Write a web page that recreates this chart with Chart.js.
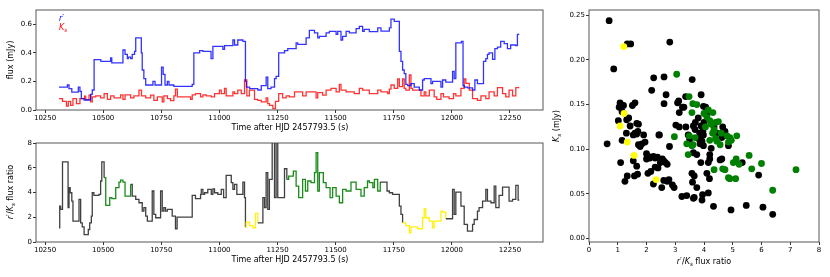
<!DOCTYPE html>
<html>
<head>
<meta charset="utf-8">
<script src="https://cdn.jsdelivr.net/npm/chart.js@4.4.1/dist/chart.umd.min.js"></script>
<style>
body { margin: 0; background: #fff; width: 830px; height: 277px; position: relative; overflow: hidden; }
canvas { position: absolute; }
</style>
</head>
<body>
<canvas id="fluxChart" width="552" height="135" style="left:0;top:0"></canvas>
<canvas id="ratioChart" width="552" height="142" style="left:0;top:135px"></canvas>
<canvas id="scatterChart" width="280" height="277" style="left:550px;top:0"></canvas>
<script>
// r' light curve [time (s), flux (mJy)]
const rFlux = [
    [10310, 0.16], [10346, 0.175], [10353, 0.15], [10365, 0.125], [10393, 0.16], [10400, 0.13],
    [10406, 0.08], [10418, 0.07], [10446, 0.11], [10453, 0.14], [10461, 0.352], [10490, 0.34],
    [10532, 0.365], [10537, 0.33], [10585, 0.42], [10594, 0.39], [10604, 0.36], [10608, 0.37],
    [10618, 0.36], [10625, 0.39], [10635, 0.41], [10640, 0.505], [10664, 0.40], [10668, 0.28],
    [10675, 0.22], [10683, 0.175], [10714, 0.2], [10723, 0.175], [10751, 0.3], [10758, 0.25],
    [10766, 0.175], [10776, 0.2], [10783, 0.175], [10804, 0.165], [10883, 0.18], [10890, 0.4],
    [10915, 0.416], [10929, 0.41], [10964, 0.36], [10972, 0.445], [11015, 0.425], [11022, 0.45],
    [11058, 0.49], [11065, 0.455], [11079, 0.49], [11101, 0.48], [11112, 0.2], [11116, 0.16],
    [11130, 0.15], [11165, 0.14], [11180, 0.17], [11201, 0.23], [11208, 0.15], [11222, 0.16],
    [11237, 0.22], [11244, 0.235], [11255, 0.4], [11280, 0.415], [11294, 0.43], [11330, 0.47],
    [11337, 0.46], [11373, 0.505], [11387, 0.557], [11409, 0.54], [11423, 0.505], [11430, 0.515],
    [11459, 0.54], [11473, 0.55], [11502, 0.53], [11509, 0.55], [11523, 0.49], [11530, 0.515],
    [11545, 0.55], [11559, 0.54], [11588, 0.57], [11602, 0.585], [11616, 0.55], [11623, 0.565],
    [11645, 0.548], [11681, 0.575], [11695, 0.552], [11731, 0.575], [11738, 0.636], [11752, 0.62],
    [11774, 0.41], [11781, 0.34], [11788, 0.28], [11795, 0.255], [11802, 0.18], [11810, 0.17],
    [11824, 0.185], [11838, 0.16], [11860, 0.14], [11874, 0.21], [11881, 0.22], [11910, 0.185],
    [11917, 0.2], [11953, 0.16], [11960, 0.21], [11974, 0.195], [12003, 0.27], [12010, 0.22],
    [12017, 0.47], [12041, 0.48], [12048, 0.17], [12053, 0.16], [12067, 0.155], [12089, 0.14],
    [12099, 0.21], [12110, 0.185], [12136, 0.34], [12146, 0.36], [12153, 0.39], [12160, 0.4],
    [12175, 0.355], [12185, 0.43], [12196, 0.44], [12210, 0.48], [12225, 0.465], [12239, 0.43],
    [12253, 0.455], [12275, 0.45], [12282, 0.53], [12290, 0.53]
];

// Ks light curve [time (s), flux (mJy)]
const kFlux = [
    [10310, 0.08], [10325, 0.061], [10342, 0.028], [10350, 0.061], [10360, 0.033], [10370, 0.08],
    [10385, 0.045], [10400, 0.08], [10420, 0.097], [10425, 0.073], [10439, 0.104], [10446, 0.057],
    [10453, 0.092], [10468, 0.099], [10489, 0.085], [10504, 0.115], [10518, 0.075], [10532, 0.099],
    [10547, 0.085], [10575, 0.106], [10585, 0.075], [10594, 0.106], [10618, 0.085], [10632, 0.099],
    [10654, 0.139], [10665, 0.099], [10683, 0.085], [10704, 0.104], [10718, 0.068], [10733, 0.092],
    [10754, 0.057], [10761, 0.099], [10776, 0.08], [10790, 0.066], [10804, 0.099], [10811, 0.146],
    [10819, 0.092], [10876, 0.075], [10883, 0.106], [10897, 0.115], [10919, 0.092], [10929, 0.106],
    [10943, 0.099], [10965, 0.092], [10979, 0.115], [11000, 0.139], [11008, 0.115], [11022, 0.151],
    [11029, 0.099], [11058, 0.127], [11065, 0.115], [11079, 0.139], [11094, 0.115], [11108, 0.21],
    [11118, 0.099], [11129, 0.139], [11151, 0.075], [11165, 0.068], [11180, 0.057], [11201, 0.085],
    [11208, 0.045], [11215, 0.033], [11230, 0.01], [11241, 0.061], [11255, 0.115], [11272, 0.085],
    [11287, 0.099], [11301, 0.092], [11323, 0.127], [11358, 0.099], [11373, 0.127], [11416, 0.085],
    [11423, 0.122], [11444, 0.104], [11459, 0.139], [11480, 0.151], [11502, 0.127], [11516, 0.18],
    [11523, 0.139], [11545, 0.127], [11580, 0.115], [11602, 0.151], [11616, 0.139], [11645, 0.115],
    [11681, 0.139], [11695, 0.127], [11724, 0.115], [11731, 0.146], [11738, 0.175], [11752, 0.151],
    [11767, 0.217], [11774, 0.163], [11788, 0.217], [11795, 0.151], [11802, 0.139], [11817, 0.245],
    [11824, 0.151], [11831, 0.139], [11867, 0.099], [11881, 0.127], [11888, 0.099], [11903, 0.139],
    [11924, 0.092], [11935, 0.075], [11953, 0.115], [11964, 0.092], [11988, 0.08], [12007, 0.115],
    [12017, 0.099], [12039, 0.151], [12053, 0.217], [12060, 0.186], [12075, 0.139], [12089, 0.08],
    [12110, 0.068], [12125, 0.099], [12146, 0.08], [12160, 0.127], [12182, 0.099], [12196, 0.156],
    [12218, 0.115], [12232, 0.092], [12246, 0.139], [12261, 0.099], [12275, 0.156], [12290, 0.156]
];

// r'/Ks flux ratio [time (s), ratio]
const fluxRatio = [
    [10310, 1.15], [10313, 2.9], [10317, 2.63], [10325, 6.47], [10349, 2.77], [10353, 4.39],
    [10358, 3.98], [10365, 3.31], [10370, 1.69], [10396, 3.44], [10403, 1.55], [10410, 1.23],
    [10418, 0.6], [10436, 1.01], [10442, 1.55], [10449, 2.09], [10453, 3.98], [10460, 3.77],
    [10482, 3.85], [10489, 4.93], [10494, 6.47], [10504, 5.2], [10511, 2.96], [10528, 3.58],
    [10537, 3.5], [10554, 4.39], [10568, 4.84], [10575, 5.0], [10585, 4.84], [10594, 3.71],
    [10618, 4.65], [10625, 3.71], [10640, 3.44], [10654, 3.17], [10668, 2.5], [10675, 2.77],
    [10683, 2.09], [10690, 1.69], [10711, 4.12], [10718, 2.23], [10726, 1.96], [10747, 4.12],
    [10754, 2.5], [10761, 2.77], [10768, 2.5], [10776, 2.63], [10797, 2.09], [10811, 1.07],
    [10818, 2.01], [10883, 3.77], [10897, 3.5], [10919, 3.85], [10922, 4.25], [10929, 3.85],
    [10936, 3.98], [10950, 4.25], [10965, 3.85], [10972, 4.3], [10979, 3.98], [10993, 3.85],
    [11008, 4.25], [11018, 3.58], [11029, 5.38], [11051, 4.79], [11058, 4.25], [11065, 4.65],
    [11075, 3.85], [11101, 4.84], [11108, 3.58], [11112, 1.2], [11115, 1.6], [11129, 1.33],
    [11144, 1.15], [11155, 2.31], [11165, 1.55], [11187, 3.58], [11194, 2.77], [11201, 5.6],
    [11208, 2.63], [11215, 5.06], [11227, 9], [11237, 3.58], [11244, 9], [11251, 3.58],
    [11280, 5.92], [11290, 5.06], [11298, 5.33], [11318, 5.73], [11330, 4.52], [11341, 3.58],
    [11358, 5.06], [11370, 4.12], [11380, 4.93], [11394, 4.79], [11409, 5.6], [11416, 7.22],
    [11423, 4.12], [11430, 5.6], [11447, 4.79], [11459, 4.39], [11476, 3.58], [11487, 4.39],
    [11502, 3.71], [11516, 3.17], [11530, 4.25], [11545, 4.12], [11566, 4.84], [11588, 4.25],
    [11609, 3.71], [11623, 4.39], [11637, 4.93], [11645, 4.79], [11660, 4.39], [11667, 5.06],
    [11681, 4.12], [11692, 4.84], [11721, 4.12], [11731, 3.98], [11745, 3.85], [11774, 2.9],
    [11781, 2.23], [11788, 1.55], [11802, 1.33], [11817, 0.74], [11824, 1.23], [11853, 1.07],
    [11874, 1.96], [11881, 2.69], [11888, 1.96], [11903, 1.69], [11917, 1.15], [11924, 1.69],
    [11953, 2.5], [11960, 2.42], [11974, 1.88], [12003, 4.25], [12010, 2.23], [12017, 4.03],
    [12039, 2.9], [12053, 1.42], [12067, 0.88], [12089, 1.42], [12096, 1.82], [12110, 2.5],
    [12117, 2.77], [12132, 3.31], [12146, 4.25], [12153, 3.31], [12168, 3.17], [12182, 4.52],
    [12189, 2.77], [12203, 3.77], [12218, 4.44], [12246, 3.31], [12261, 3.44], [12275, 4.57],
    [12285, 3.39], [12290, 3.39]
];

// time spans highlighted in the ratio curve and the scatter
const greenSpans = [[10497, 10618], [11290, 11688]];
const yellowSpans = [[11112, 11165], [11788, 11974]];

// scatter [ratio, Ks (mJy)]
const blackPoints = [
    [0.70, 0.244], [1.33, 0.218], [1.45, 0.218], [0.86, 0.19], [2.81, 0.220], [2.25, 0.180],
    [2.61, 0.181], [3.59, 0.178], [2.18, 0.166], [2.68, 0.161], [3.90, 0.161], [3.36, 0.159],
    [1.08, 0.152], [1.20, 0.149], [1.60, 0.152], [1.51, 0.149], [1.15, 0.142], [1.02, 0.132],
    [1.31, 0.133], [1.38, 0.135], [1.43, 0.126], [1.66, 0.129], [1.72, 0.128], [2.61, 0.151],
    [3.08, 0.152], [3.12, 0.154], [3.25, 0.147], [3.30, 0.147], [3.14, 0.141], [3.98, 0.148],
    [4.06, 0.147], [3.02, 0.127], [3.14, 0.125], [3.37, 0.125], [3.63, 0.126], [3.69, 0.122],
    [3.90, 0.126], [3.96, 0.120], [4.65, 0.125], [4.73, 0.120], [1.60, 0.118], [1.70, 0.120],
    [1.90, 0.116], [2.45, 0.116], [0.63, 0.106], [1.10, 0.085], [1.54, 0.087], [1.25, 0.064],
    [1.33, 0.070], [1.58, 0.070], [1.69, 0.072], [1.66, 0.081], [2.24, 0.061], [2.53, 0.057],
    [1.54, 0.116], [1.66, 0.117], [1.72, 0.105], [1.78, 0.103], [1.84, 0.106], [1.95, 0.108],
    [2.00, 0.095], [2.06, 0.092], [2.12, 0.090], [2.00, 0.089], [2.24, 0.092], [2.30, 0.090],
    [2.38, 0.091], [2.48, 0.085], [2.60, 0.087], [2.55, 0.089], [2.66, 0.085], [2.72, 0.083],
    [2.30, 0.080], [2.40, 0.079], [2.05, 0.073], [2.15, 0.075], [2.60, 0.065], [2.72, 0.064],
    [2.78, 0.066], [2.90, 0.060], [2.96, 0.057], [2.80, 0.103], [2.43, 0.116], [3.45, 0.116],
    [3.50, 0.111], [3.63, 0.096], [3.75, 0.094], [3.80, 0.112], [3.98, 0.116], [3.93, 0.109],
    [3.86, 0.106], [3.98, 0.104], [3.89, 0.085], [3.58, 0.073], [3.66, 0.070], [3.75, 0.057],
    [3.60, 0.063], [3.23, 0.047], [3.40, 0.048], [3.63, 0.045], [3.66, 0.046], [3.95, 0.049],
    [4.15, 0.051], [3.93, 0.043], [4.33, 0.036], [4.10, 0.073], [4.19, 0.067], [4.15, 0.085],
    [4.20, 0.089], [4.20, 0.094], [4.25, 0.101], [4.62, 0.113], [4.68, 0.115], [4.56, 0.088],
    [4.62, 0.089], [4.85, 0.104], [5.33, 0.085], [5.90, 0.071], [4.94, 0.032], [5.47, 0.037],
    [6.05, 0.035], [6.39, 0.027], [3.70, 0.130], [3.80, 0.135], [4.00, 0.130], [4.10, 0.138],
    [3.85, 0.118], [4.35, 0.125], [4.45, 0.118], [1.15, 0.110], [1.30, 0.118], [1.05, 0.147]
];
const greenPoints = [
    [3.05, 0.184], [3.48, 0.159], [3.61, 0.151], [3.75, 0.150], [3.58, 0.141], [4.31, 0.141],
    [4.10, 0.136], [4.20, 0.132], [4.00, 0.140], [4.25, 0.128], [4.40, 0.130], [4.50, 0.131],
    [4.15, 0.144], [4.35, 0.122], [4.05, 0.125], [4.60, 0.118], [4.80, 0.115], [5.14, 0.115],
    [2.97, 0.114], [3.49, 0.115], [3.40, 0.106], [3.45, 0.094], [3.69, 0.113], [3.58, 0.104],
    [3.62, 0.105], [4.35, 0.077], [4.30, 0.118], [4.35, 0.120], [4.45, 0.109], [4.56, 0.105],
    [4.65, 0.078], [4.73, 0.077], [4.85, 0.068], [4.90, 0.067], [5.10, 0.067], [4.90, 0.113],
    [4.95, 0.110], [4.85, 0.108], [5.02, 0.085], [5.12, 0.089], [5.22, 0.083], [5.57, 0.093],
    [5.66, 0.078], [6.00, 0.084], [6.39, 0.054], [7.20, 0.077], [4.20, 0.110], [4.40, 0.112]
];
const yellowPoints = [
    [1.21, 0.215], [1.22, 0.140], [1.08, 0.126], [1.33, 0.108], [1.57, 0.093], [2.33, 0.066]
];

const timeTicks = [10250, 10500, 10750, 11000, 11250, 11500, 11750, 12000, 12250];
const fluxTicks = [0.0, 0.2, 0.4, 0.6];
const ratioTicks = [0, 2, 4, 6, 8];
const scatterXTicks = [0, 1, 2, 3, 4, 5, 6, 7, 8];
const scatterYTicks = [0.00, 0.05, 0.10, 0.15, 0.20, 0.25];

const FONT = '"DejaVu Sans", sans-serif';
const tickFont = { family: FONT, size: 7 };
const LABEL_SIZE = 8;

function toXY(pairs) {
    return pairs.map(p => ({ x: p[0], y: p[1] }));
}

function inSpans(t, spans) {
    return spans.some(s => t >= s[0] && t < s[1]);
}

function ratioColor(t) {
    if (inSpans(t, greenSpans)) return 'rgba(0,128,0,0.9)';
    if (inSpans(t, yellowSpans)) return 'rgba(255,240,0,0.95)';
    return 'rgba(0,0,0,0.75)';
}

// draw text made of plain/italic/subscript pieces
function drawRich(ctx, parts, x, y, opts) {
    const size = opts.size;
    const fontOf = p => (p.it ? 'italic ' : '') + (p.sub ? size * 0.7 : size) + 'px ' + FONT;
    ctx.save();
    ctx.translate(x, y);
    ctx.rotate(opts.angle || 0);
    let total = 0;
    parts.forEach(p => { ctx.font = fontOf(p); total += ctx.measureText(p.t).width; });
    let cx = opts.align === 'left' ? 0 : -total / 2;
    ctx.textBaseline = 'middle';
    ctx.fillStyle = opts.color || '#000';
    parts.forEach(p => {
        ctx.font = fontOf(p);
        ctx.fillText(p.t, cx, p.sub ? size * 0.3 : 0);
        cx += ctx.measureText(p.t).width;
    });
    ctx.restore();
}

const ratioLabel = [
    { t: 'r', it: true }, { t: '\u2032/' }, { t: 'K', it: true }, { t: 's', it: true, sub: true }, { t: ' flux ratio' }
];
const timeLabel = [{ t: 'Time after HJD 2457793.5 (s)' }];

function framePlugin(labels) {
    return {
        id: 'frame',
        afterDraw(chart) {
            const ctx = chart.ctx;
            const a = chart.chartArea;
            ctx.save();
            ctx.strokeStyle = '#444';
            ctx.lineWidth = 0.9;
            ctx.strokeRect(a.left, a.top, a.right - a.left, a.bottom - a.top);
            ctx.restore();
            labels.forEach(l => drawRich(ctx, l.parts, l.x, l.y, l));
        }
    };
}

function axis(min, max, ticks, fmt, size, isX) {
    return {
        type: 'linear',
        min: min,
        max: max,
        afterBuildTicks: s => { s.ticks = ticks.map(v => ({ value: v })); },
        afterFit: s => { if (isX) s.height = size; else s.width = size; },
        ticks: { font: tickFont, color: '#000', padding: 1, maxRotation: 0, autoSkip: false, callback: fmt },
        grid: { display: true, drawOnChartArea: false, drawTicks: true, tickLength: 3, color: '#333' },
        border: { display: false }
    };
}

Chart.defaults.animation = false;
Chart.defaults.plugins.legend.display = false;
Chart.defaults.plugins.tooltip.enabled = false;

new Chart(document.getElementById('fluxChart'), {
    type: 'line',
    data: {
        datasets: [
            { data: toXY(rFlux), borderColor: 'rgba(0,0,255,0.8)', borderWidth: 1.3, pointRadius: 0, stepped: true },
            { data: toXY(kFlux), borderColor: 'rgba(255,0,0,0.8)', borderWidth: 1.3, pointRadius: 0, stepped: true }
        ]
    },
    options: {
        responsive: false,
        layout: { padding: { top: 10, right: 9, left: 0, bottom: 0 } },
        scales: {
            x: axis(10211, 12392, timeTicks, v => String(v), 25, true),
            y: axis(0, 0.7, fluxTicks, v => v.toFixed(1), 36, false)
        }
    },
    plugins: [framePlugin([
        { parts: timeLabel, x: 290, y: 128, size: LABEL_SIZE },
        { parts: [{ t: 'flux (mJy)' }], x: 11, y: 60, size: LABEL_SIZE, angle: -Math.PI / 2 },
        { parts: [{ t: 'r', it: true }, { t: '\u2032' }], x: 59, y: 19, size: LABEL_SIZE, align: 'left', color: '#0000ff' },
        { parts: [{ t: 'K', it: true }, { t: 's', it: true, sub: true }], x: 59, y: 28, size: LABEL_SIZE, align: 'left', color: '#ff0000' }
    ])]
});

new Chart(document.getElementById('ratioChart'), {
    type: 'line',
    data: {
        datasets: [{
            data: toXY(fluxRatio),
            borderColor: 'rgba(0,0,0,0.75)',
            borderWidth: 1.3,
            pointRadius: 0,
            stepped: true,
            segment: { borderColor: c => ratioColor(c.p0.parsed.x) }
        }]
    },
    options: {
        responsive: false,
        layout: { padding: { top: 8, right: 9, left: 0, bottom: 0 } },
        scales: {
            x: axis(10211, 12392, timeTicks, v => String(v), 35, true),
            y: axis(0, 8, ratioTicks, v => String(v), 36, false)
        }
    },
    plugins: [framePlugin([
        { parts: timeLabel, x: 290, y: 125, size: LABEL_SIZE },
        { parts: ratioLabel, x: 11, y: 57, size: LABEL_SIZE, angle: -Math.PI / 2 }
    ])]
});

new Chart(document.getElementById('scatterChart'), {
    type: 'scatter',
    data: {
        datasets: [
            { data: toXY(yellowPoints), backgroundColor: '#ffff00', pointRadius: 3.4, borderWidth: 0 },
            { data: toXY(greenPoints), backgroundColor: '#008000', pointRadius: 3.4, borderWidth: 0 },
            { data: toXY(blackPoints), backgroundColor: '#000000', pointRadius: 3.4, borderWidth: 0 }
        ]
    },
    options: {
        responsive: false,
        layout: { padding: { top: 10, right: 11, left: 0, bottom: 0 } },
        scales: {
            x: axis(0, 8, scatterXTicks, v => String(v), 35, true),
            y: axis(-0.004, 0.256, scatterYTicks, v => v.toFixed(2), 39, false)
        }
    },
    plugins: [framePlugin([
        { parts: ratioLabel, x: 154, y: 262, size: LABEL_SIZE },
        { parts: [{ t: 'K', it: true }, { t: 's', it: true, sub: true }, { t: ' (mJy)' }], x: 7, y: 126, size: LABEL_SIZE, angle: -Math.PI / 2 }
    ])]
});
</script>
</body>
</html>
